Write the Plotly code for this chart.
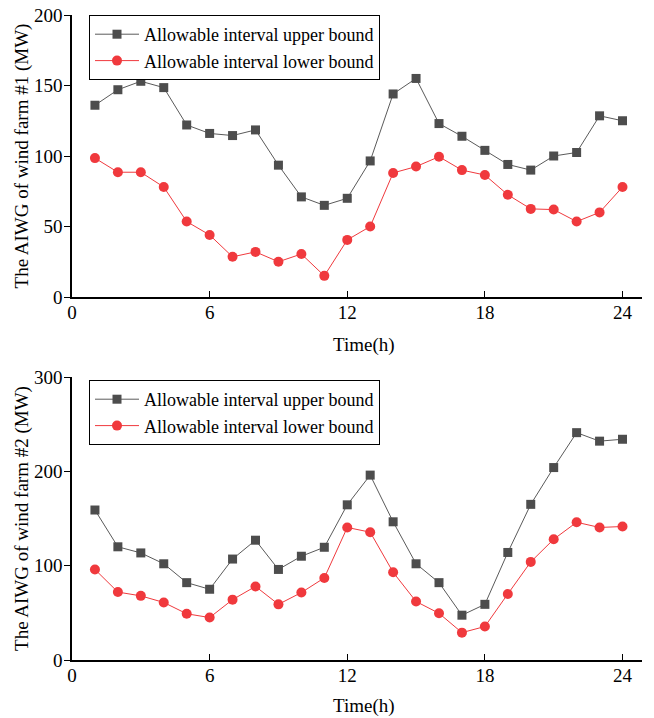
import plotly.graph_objects as go

hours = list(range(1, 25))

wf1_upper = [136, 147, 153, 148.5, 122, 116, 114.5, 118.5, 93.5, 71, 65, 70,
             96.5, 144, 155, 123, 114, 104, 94, 90, 100, 102.5, 128.5, 125]
wf1_lower = [98.5, 88.5, 88.5, 78, 53.5, 44, 28.5, 32, 25, 30.5, 15, 40.5,
             50, 88, 92.5, 99.5, 90, 86.5, 72.5, 62.5, 62, 53.5, 60, 78]

wf2_upper = [159, 120, 113.5, 102, 82, 75, 107, 127, 96, 110, 119.5, 164.5,
             196, 146.5, 102, 82, 47.5, 59, 114, 165, 204, 241, 232, 234]
wf2_lower = [96, 72, 68, 61, 49, 45, 64, 78, 59, 71.5, 87, 140.5,
             135.5, 93, 62, 49.5, 29, 35.5, 70, 104, 128, 146, 140.5, 141.5]

series_names = ["Allowable interval upper bound", "Allowable interval lower bound"]
x_ticks = [0, 6, 12, 18, 24]
y1_ticks = [0, 50, 100, 150, 200]
y2_ticks = [0, 100, 200, 300]
y_titles = ["The AIWG of wind farm #1 (MW)", "The AIWG of wind farm #2 (MW)"]
x_title = "Time(h)"

FONT = "Liberation Serif"
GRAY = "#4d4d4d"
GRAY_LINE = "#5a5a5a"
RED = "#f0393d"

fig = go.Figure()

def add_pair(upper, lower, xa, ya, legend):
    fig.add_trace(go.Scatter(
        x=hours, y=upper, name=series_names[0], mode="lines+markers",
        xaxis=xa, yaxis=ya, legend=legend,
        line=dict(color=GRAY_LINE, width=1),
        marker=dict(symbol="square", size=9, color=GRAY),
    ))
    fig.add_trace(go.Scatter(
        x=hours, y=lower, name=series_names[1], mode="lines+markers",
        xaxis=xa, yaxis=ya, legend=legend,
        line=dict(color=RED, width=1),
        marker=dict(symbol="circle", size=10, color=RED),
    ))

add_pair(wf1_upper, wf1_lower, "x", "y", "legend")
add_pair(wf2_upper, wf2_lower, "x2", "y2", "legend2")

W, H = 654, 718
ml, mr, mt, mb = 72, 12, 15, 58
ph = H - mt - mb
pw = W - ml - mr

def ydom(top_px, bot_px):
    return [(H - mb - bot_px) / ph, (H - mb - top_px) / ph]

def ypaper(px):
    return (H - mb - px) / ph

xaxis_common = dict(
    range=[0, 24.85], tickvals=x_ticks, ticks="inside", ticklen=6, tickwidth=1,
    tickcolor="black", showline=True, linecolor="black", linewidth=1.5,
    showgrid=False, zeroline=False, ticklabelstandoff=-3, automargin=False,
    tickfont=dict(family=FONT, size=19, color="black"),
)
yaxis_common = dict(
    ticks="outside", ticklen=6, tickwidth=1, tickcolor="black",
    showline=True, linecolor="black", linewidth=1.5, showgrid=False, zeroline=False,
    ticklabelstandoff=-2, automargin=False,
    tickfont=dict(family=FONT, size=19, color="black"),
)

legend_common = dict(
    bgcolor="white", bordercolor="black", borderwidth=1,
    font=dict(family=FONT, size=18, color="black"),
    xanchor="left", yanchor="top", tracegroupgap=0, itemwidth=44,
)

fig.update_layout(
    width=W, height=H,
    margin=dict(l=ml, r=mr, t=mt, b=mb, autoexpand=False),
    paper_bgcolor="white", plot_bgcolor="white",
    font=dict(family=FONT, size=19, color="black"),
    xaxis=dict(domain=[0, 1], anchor="y", **xaxis_common),
    xaxis2=dict(domain=[0, 1], anchor="y2", **xaxis_common),
    yaxis=dict(domain=ydom(15, 297), anchor="x", range=[0, 200], tickvals=y1_ticks,
               title=dict(text=y_titles[0], font=dict(family=FONT, size=19, color="black"), standoff=0),
               **yaxis_common),
    yaxis2=dict(domain=ydom(377, 660), anchor="x2", range=[0, 300], tickvals=y2_ticks,
                title=dict(text=y_titles[1], font=dict(family=FONT, size=19, color="black"), standoff=0),
                **yaxis_common),
    legend=dict(x=(89 - ml) / pw, y=ypaper(15), **legend_common),
    legend2=dict(x=(89 - ml) / pw, y=ypaper(380), **legend_common),
    annotations=[
        dict(text=x_title, xref="paper", yref="paper", x=(364 - ml) / pw, y=ypaper(345),
             xanchor="center", yanchor="middle", showarrow=False,
             font=dict(family=FONT, size=19, color="black")),
        dict(text=x_title, xref="paper", yref="paper", x=(364 - ml) / pw, y=ypaper(706),
             xanchor="center", yanchor="middle", showarrow=False,
             font=dict(family=FONT, size=19, color="black")),
    ],
)

fig.write_html("out.html")
